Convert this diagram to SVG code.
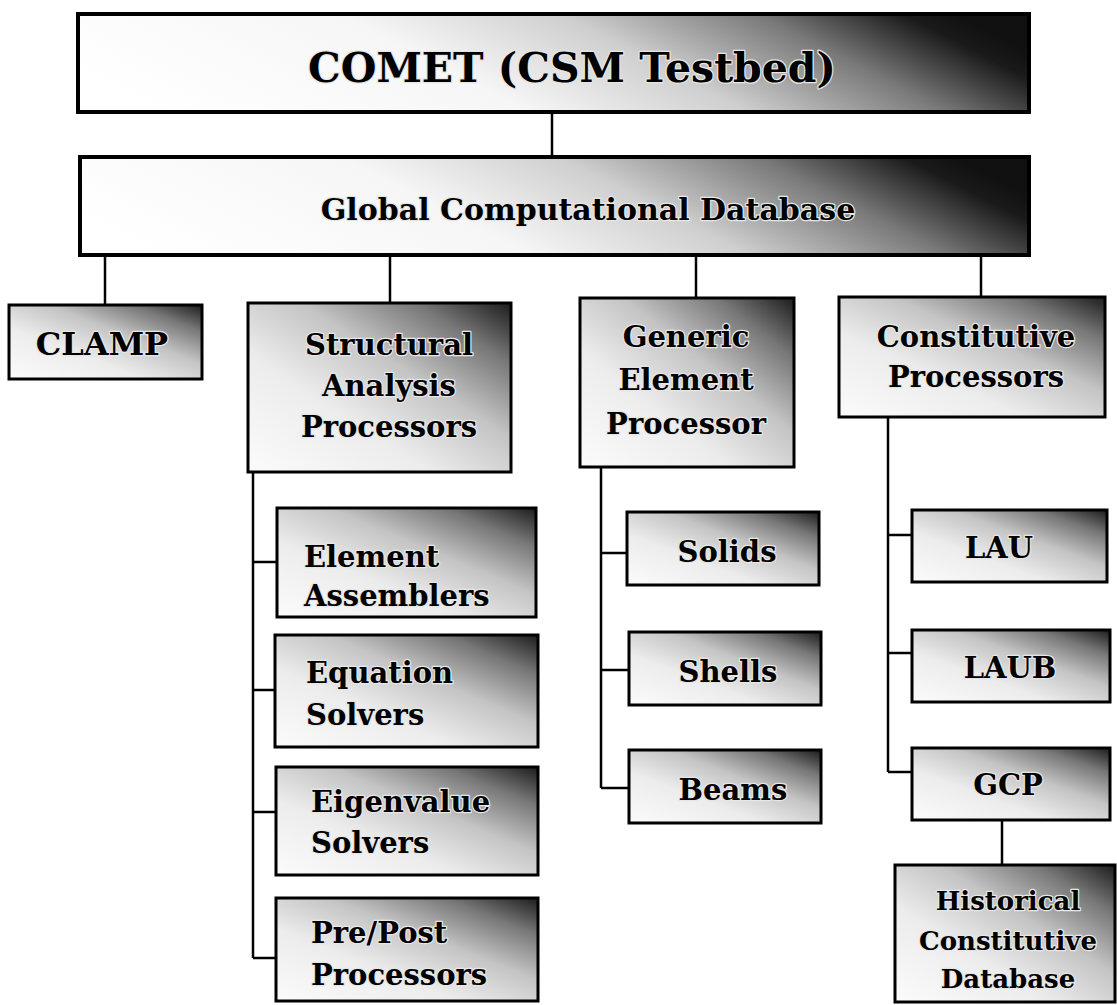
<svg xmlns="http://www.w3.org/2000/svg" width="1117" height="1005" viewBox="0 0 1117 1005">
<defs>
<linearGradient id="gBig" x1="0" y1="0.6" x2="1" y2="0.4">
<stop offset="0" stop-color="#ffffff"/>
<stop offset="0.38" stop-color="#f6f6f6"/>
<stop offset="0.6" stop-color="#cfcfcf"/>
<stop offset="0.8" stop-color="#7a7a7a"/>
<stop offset="0.95" stop-color="#1a1a1a"/>
<stop offset="1" stop-color="#111111"/>
</linearGradient>
<linearGradient id="gBox" x1="0" y1="1" x2="1" y2="0">
<stop offset="0" stop-color="#fbfbfb"/>
<stop offset="0.35" stop-color="#ececec"/>
<stop offset="0.6" stop-color="#c4c4c4"/>
<stop offset="0.82" stop-color="#777777"/>
<stop offset="1" stop-color="#1c1c1c"/>
</linearGradient>
</defs>
<style>
.big{fill:url(#gBig);stroke:#000;stroke-width:4}
.box{fill:url(#gBox);stroke:#000;stroke-width:3}
.t{font-family:"DejaVu Serif","Liberation Serif",serif;font-weight:bold;fill:#000;stroke:#e6e6e6;stroke-width:2.5;paint-order:stroke;stroke-linejoin:round}
.c{text-anchor:middle}
.n{font-size:29px}
.conn line{stroke:#000;stroke-width:2.5}
</style>
<g class="conn">
<line x1="552" y1="112" x2="552" y2="157"/>
<line x1="105" y1="255" x2="105" y2="305"/>
<line x1="390" y1="255" x2="390" y2="303"/>
<line x1="696" y1="255" x2="696" y2="298"/>
<line x1="981" y1="255" x2="981" y2="297"/>
<line x1="253" y1="472" x2="253" y2="958"/>
<line x1="253" y1="562" x2="277" y2="562"/>
<line x1="253" y1="690" x2="275" y2="690"/>
<line x1="253" y1="812" x2="276" y2="812"/>
<line x1="253" y1="958" x2="276" y2="958"/>
<line x1="601" y1="467" x2="601" y2="788"/>
<line x1="601" y1="553" x2="627" y2="553"/>
<line x1="601" y1="670" x2="629" y2="670"/>
<line x1="601" y1="788" x2="629" y2="788"/>
<line x1="888" y1="417" x2="888" y2="772"/>
<line x1="888" y1="535" x2="912" y2="535"/>
<line x1="888" y1="653" x2="912" y2="653"/>
<line x1="888" y1="772" x2="912" y2="772"/>
<line x1="1002" y1="820" x2="1002" y2="865"/>
</g>
<g id="comet">
<rect class="big" x="78" y="14" width="951" height="98"/>
<text class="t c" x="572" y="82" font-size="41">COMET (CSM Testbed)</text>
</g>
<g id="gcd">
<rect class="big" x="80" y="157" width="949" height="98"/>
<text class="t c" x="588" y="220" font-size="30">Global Computational Database</text>
</g>
<g id="clamp">
<rect class="box" x="9" y="305" width="193" height="74"/>
<text class="t c" x="102" y="355" font-size="32">CLAMP</text>
</g>
<g id="sap">
<rect class="box" x="248" y="303" width="263" height="169"/>
<text class="t c n" x="389" y="355">Structural</text>
<text class="t c n" x="389" y="396">Analysis</text>
<text class="t c n" x="389" y="437">Processors</text>
</g>
<g id="gep">
<rect class="box" x="580" y="298" width="214" height="169"/>
<text class="t c n" x="686" y="347">Generic</text>
<text class="t c n" x="686" y="390">Element</text>
<text class="t c n" x="686" y="434">Processor</text>
</g>
<g id="cp">
<rect class="box" x="839" y="297" width="266" height="120"/>
<text class="t c n" x="976" y="347">Constitutive</text>
<text class="t c n" x="976" y="387">Processors</text>
</g>
<g id="ea">
<rect class="box" x="277" y="508" width="259" height="109"/>
<text class="t n" x="304" y="567">Element</text>
<text class="t n" x="304" y="606">Assemblers</text>
</g>
<g id="es">
<rect class="box" x="275" y="635" width="263" height="112"/>
<text class="t n" x="306" y="683">Equation</text>
<text class="t n" x="306" y="725">Solvers</text>
</g>
<g id="evs">
<rect class="box" x="276" y="767" width="262" height="108"/>
<text class="t n" x="311" y="812">Eigenvalue</text>
<text class="t n" x="311" y="853">Solvers</text>
</g>
<g id="pp">
<rect class="box" x="276" y="898" width="262" height="103"/>
<text class="t n" x="311" y="943">Pre/Post</text>
<text class="t n" x="311" y="985">Processors</text>
</g>
<g id="solids">
<rect class="box" x="627" y="512" width="192" height="73"/>
<text class="t c n" x="727" y="562">Solids</text>
</g>
<g id="shells">
<rect class="box" x="629" y="632" width="192" height="73"/>
<text class="t c n" x="728" y="682">Shells</text>
</g>
<g id="beams">
<rect class="box" x="629" y="750" width="192" height="73"/>
<text class="t c n" x="733" y="800">Beams</text>
</g>
<g id="lau">
<rect class="box" x="912" y="510" width="195" height="72"/>
<text class="t c n" x="999" y="558">LAU</text>
</g>
<g id="laub">
<rect class="box" x="912" y="630" width="198" height="72"/>
<text class="t c n" x="1010" y="678">LAUB</text>
</g>
<g id="gcp">
<rect class="box" x="912" y="748" width="198" height="72"/>
<text class="t c n" x="1008" y="795">GCP</text>
</g>
<g id="hcd">
<rect class="box" x="895" y="865" width="220" height="137"/>
<text class="t c" x="1008" y="910" font-size="26">Historical</text>
<text class="t c" x="1008" y="950" font-size="26">Constitutive</text>
<text class="t c" x="1008" y="988" font-size="26">Database</text>
</g>
</svg>
